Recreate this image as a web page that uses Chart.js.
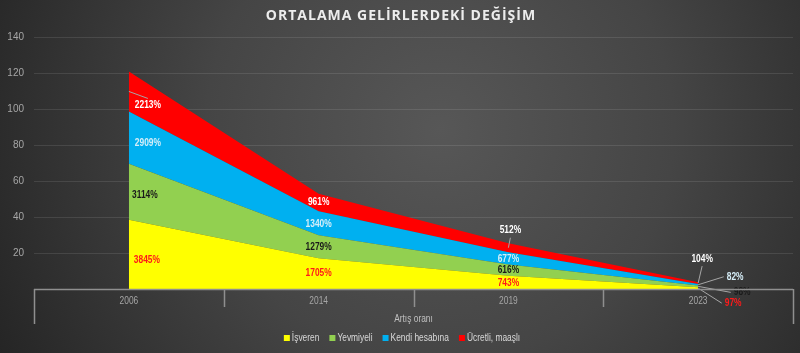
<!DOCTYPE html>
<html>
<head>
<meta charset="utf-8">
<script src="https://cdn.jsdelivr.net/npm/chart.js@4/dist/chart.umd.min.js"></script>
<style>
  html, body { margin: 0; padding: 0; background: #333; }
  #wrap { width: 800px; height: 353px; position: relative; }
</style>
</head>
<body>
<div id="wrap"><canvas id="chart" width="800" height="353"></canvas></div>
<script>
// categories and series (labels are value*100 %)
var years = ['2006', '2014', '2019', '2023'];
var isveren       = [38.45, 17.05, 7.43, 0.97];
var yevmiyeli     = [31.14, 12.79, 6.16, 0.98];
var kendiHesabina = [29.09, 13.40, 6.77, 0.82];
var ucretliMaasli = [22.13, 9.61, 5.12, 1.04];
var seriesNames = ['İşveren', 'Yevmiyeli', 'Kendi hesabına', 'Ücretli, maaşlı'];
var groupLabel = 'Artış oranı';
var chartTitle = 'ORTALAMA GELİRLERDEKİ DEĞİŞİM';

var fillColors  = ['#ffff00', '#92d050', '#00b0f0', '#ff0000'];
var labelColors = ['#ff1a1a', '#1a1a1a', '#d6eef8', '#ffffff'];
var SANS = "'Liberation Sans', Arial, sans-serif";
var SQUEEZE = 0.84;   // fake a narrow face

// label nudges in px from the band middle: [dx, dy, leader]
var labelNudge = [
  [[18, 6], [0, 0], [0, 1], [35, 15, 'left']],
  [[16, 3], [0, 0], [0, 0], [44, 6, 'left']],
  [[19, 6], [0, 1], [0, 1], [37, -8, 'left']],
  [[19, 14, 'top'], [0, 0], [2, -17, 'bottom'], [4, -24, 'bottom']]
];

// draws text squeezed horizontally, align 'center' or 'left'
function narrowText(ctx, txt, x, y, align) {
  var w = ctx.measureText(txt).width * SQUEEZE;
  ctx.save();
  ctx.translate(align == 'left' ? x : x - w / 2, y);
  ctx.scale(SQUEEZE, 1);
  ctx.textAlign = 'left';
  ctx.fillText(txt, 0, 0);
  ctx.restore();
  return w;
}

var bgPlugin = {
  id: 'bg',
  beforeDraw: function(chart) {
    var ctx = chart.ctx;
    var g = ctx.createRadialGradient(440, 130, 0, 440, 130, 520);
    g.addColorStop(0, '#575757');
    g.addColorStop(0.45, '#454545');
    g.addColorStop(1, '#222222');
    ctx.save();
    ctx.fillStyle = g;
    ctx.fillRect(0, 0, chart.width, chart.height);
    ctx.restore();
  }
};

var decorPlugin = {
  id: 'decor',
  afterDatasetsDraw: function(chart) {
    var ctx = chart.ctx, area = chart.chartArea;
    var xs = chart.scales.x, ys = chart.scales.y;
    var sets = chart.data.datasets;

    // data labels
    ctx.save();
    ctx.font = 'bold 10px ' + SANS;
    ctx.textBaseline = 'middle';
    for (var i = 0; i < sets.length; i++) {
      var meta = chart.getDatasetMeta(i);
      for (var j = 0; j < years.length; j++) {
        var base = 0;
        for (var k = 0; k < i; k++) base += sets[k].data[j];
        var v = sets[i].data[j];
        var x = meta.data[j].x;
        var y = ys.getPixelForValue(base + v / 2);
        var n = labelNudge[i][j];
        var lx = x + n[0], ly = y + n[1];
        var txt = Math.round(v * 100) + '%';
        var w = ctx.measureText(txt).width * SQUEEZE;
        if (n[2]) {
          ctx.strokeStyle = '#a6a6a6';
          ctx.lineWidth = 1;
          ctx.beginPath();
          ctx.moveTo(x, y);
          if (n[2] == 'top') ctx.lineTo(lx, ly - 7);
          else if (n[2] == 'bottom') ctx.lineTo(lx, ly + 7);
          else ctx.lineTo(lx - w / 2 - 3, ly);
          ctx.stroke();
        }
        ctx.fillStyle = labelColors[i];
        narrowText(ctx, txt, lx, ly, 'center');
      }
    }
    ctx.restore();

    // multi-level category axis
    var pts = years.map(function(d, i) { return xs.getPixelForValue(i); });
    var edges = [area.left];
    for (var i = 0; i < pts.length - 1; i++) edges.push((pts[i] + pts[i + 1]) / 2);
    edges.push(area.right);

    ctx.save();
    ctx.strokeStyle = '#8f8f8f';
    ctx.lineWidth = 1.5;
    ctx.beginPath();
    ctx.moveTo(area.left, area.bottom + 0.5);
    ctx.lineTo(area.right, area.bottom + 0.5);
    for (var e = 0; e < edges.length; e++) {
      var ex = Math.round(edges[e]) + 0.5;
      var outer = (e == 0 || e == edges.length - 1);
      ctx.moveTo(ex, area.bottom);
      ctx.lineTo(ex, area.bottom + (outer ? 35 : 18));
    }
    ctx.stroke();

    ctx.font = '10px ' + SANS;
    ctx.fillStyle = '#a6a6a6';
    ctx.textBaseline = 'middle';
    for (var i = 0; i < pts.length; i++) narrowText(ctx, years[i], pts[i], area.bottom + 12, 'center');
    ctx.fillStyle = '#bfbfbf';
    narrowText(ctx, groupLabel, (area.left + area.right) / 2, area.bottom + 30, 'center');
    ctx.restore();
  },
  afterDraw: function(chart) {
    var ctx = chart.ctx;
    // title
    ctx.save();
    ctx.font = "bold 14px 'Open Sans', sans-serif";
    if ('letterSpacing' in ctx) ctx.letterSpacing = '1px';
    ctx.fillStyle = '#ececec';
    ctx.textAlign = 'center';
    ctx.textBaseline = 'middle';
    ctx.fillText(chartTitle, 401, 16);
    ctx.restore();

    // legend
    ctx.save();
    ctx.font = '10px ' + SANS;
    ctx.textBaseline = 'middle';
    var box = 6, gap = 2, spacing = 10;
    var total = 0, widths = [];
    for (var i = 0; i < seriesNames.length; i++) {
      widths.push(ctx.measureText(seriesNames[i]).width * SQUEEZE);
      total += box + gap + widths[i] + (i < seriesNames.length - 1 ? spacing : 0);
    }
    var lx = 402 - total / 2, ly = 338;
    for (var i = 0; i < seriesNames.length; i++) {
      ctx.fillStyle = fillColors[i];
      ctx.fillRect(lx, ly - box / 2, box, box);
      ctx.fillStyle = '#d9d9d9';
      narrowText(ctx, seriesNames[i], lx + box + gap, ly, 'left');
      lx += box + gap + widths[i] + spacing;
    }
    ctx.restore();
  }
};

var seriesValues = [isveren, yevmiyeli, kendiHesabina, ucretliMaasli];
var datasets = seriesValues.map(function(vals, i) {
  return {
    label: seriesNames[i],
    data: vals,
    backgroundColor: fillColors[i],
    borderColor: fillColors[i],
    borderWidth: 0,
    pointRadius: 0,
    tension: 0,
    fill: i == 0 ? 'origin' : '-1'
  };
});

new Chart(document.getElementById('chart'), {
  type: 'line',
  data: { labels: years, datasets: datasets },
  options: {
    responsive: false,
    animation: false,
    layout: { padding: { top: 37, right: 7, bottom: 64, left: 0 } },
    plugins: {
      legend: { display: false },
      title: { display: false },
      tooltip: { enabled: false }
    },
    scales: {
      x: { type: 'category', offset: true, display: false },
      y: {
        stacked: true,
        min: 0,
        max: 140,
        afterFit: function(scale) { scale.width = 34; },
        border: { display: false },
        grid: {
          drawTicks: false,
          color: function(c) { return c.tick.value == 0 ? 'rgba(0,0,0,0)' : 'rgba(255,255,255,0.1)'; }
        },
        ticks: {
          stepSize: 20,
          padding: 10,
          color: '#a6a6a6',
          font: { size: 10, family: SANS },
          callback: function(v) { return v == 0 ? '' : v; }
        }
      }
    }
  },
  plugins: [bgPlugin, decorPlugin]
});
</script>
</body>
</html>
